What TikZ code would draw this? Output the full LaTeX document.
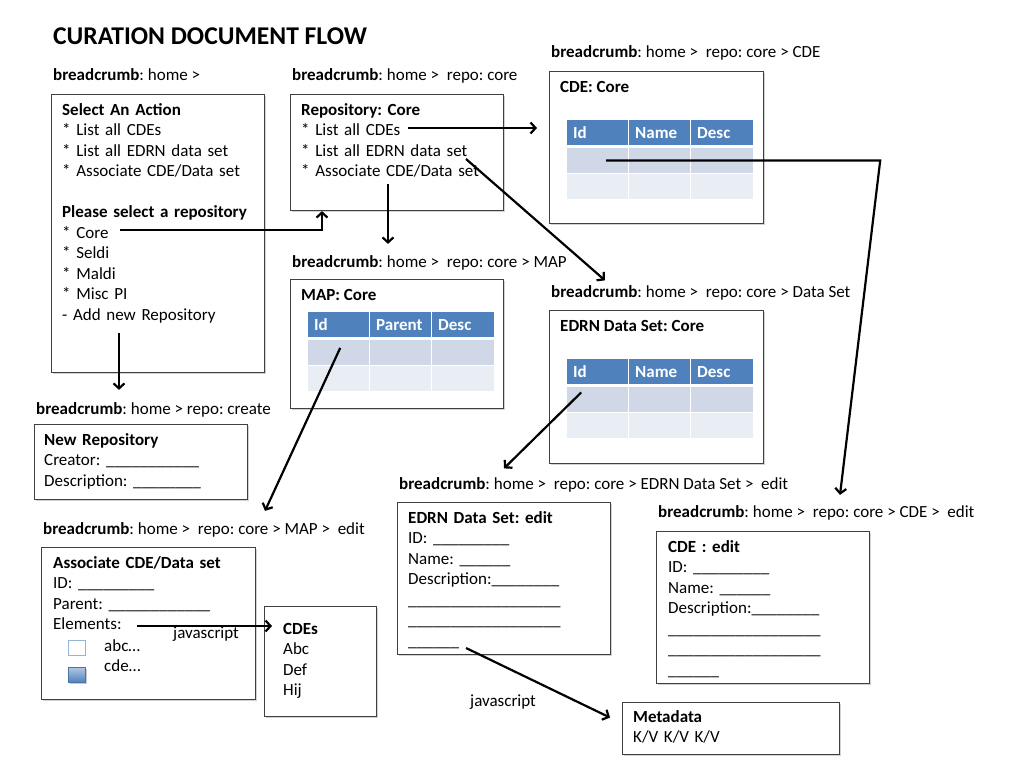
\documentclass[tikz,border=0pt]{standalone}
\usepackage{fontspec}
\setmainfont{Carlito}
\usetikzlibrary{arrows.meta,positioning,shadows}

\definecolor{hdrblue}{HTML}{4F81BD}
\definecolor{rowdark}{HTML}{D0D8E8}
\definecolor{rowlight}{HTML}{E9EDF4}
\definecolor{framegray}{HTML}{404040}
\definecolor{chkline}{HTML}{95B3D7}

\newcommand{\bodyfont}{\fontsize{17}{20.5}\selectfont\frenchspacing}
\newcommand{\fillblank}[1]{\foreach \k in {1,...,#1}{\_}}

\tikzset{
  screen/.style={draw=framegray, line width=1.1pt, fill=white, inner sep=0pt, anchor=north west,
                 drop shadow={shadow xshift=1.5pt, shadow yshift=-1.5pt, fill=black!35, opacity=0.5}},
  txt/.style={anchor=base west, inner sep=0pt, align=left, font=\bodyfont},
  para/.style={txt, text width=200pt},
  cell/.style={anchor=north west, inner sep=0pt, minimum height=24.5, draw=none},
  hlabel/.style={anchor=west, inner sep=0pt, text=white, font=\bodyfont\bfseries,
                 text height=12pt, text depth=0pt},
  flow/.style={-{Straight Barb[length=5pt, width=11pt]}, line width=2.2pt},
}

% table with three columns: name, x, y, middle header
\newcommand{\datatable}[4]{%
  \node[cell, fill=hdrblue, minimum width=61] (#1-h1) at (#2,#3) {};
  \node[cell, fill=hdrblue, minimum width=61] (#1-h2) at (#2+62,#3) {};
  \node[cell, fill=hdrblue, minimum width=62] (#1-h3) at (#2+124,#3) {};
  \foreach \c/\w [count=\i] in {0/61,62/61,124/62} {
    \node[cell, fill=rowdark, minimum width=\w] (#1-a\i) at (#2+\c,#3+28) {};
    \node[cell, fill=rowlight, minimum width=\w] (#1-b\i) at (#2+\c,#3+54) {};
  }
  \node[hlabel] at ([xshift=6pt]#1-h1.west) {Id};
  \node[hlabel] at ([xshift=6pt]#1-h2.west) {#4};
  \node[hlabel] at ([xshift=6pt]#1-h3.west) {Desc};
}

\begin{document}
\begin{tikzpicture}[x=1pt, y=-1pt]
  \useasboundingbox (0,0) rectangle (1024,768);
  \fill[white] (0,0) rectangle (1024,768);

  % ----- Title -----
  \node[txt, font=\fontsize{25.6}{30}\selectfont\bfseries] (title) at (53,45) {CURATION DOCUMENT FLOW};

  % ----- Breadcrumbs -----
  \node[txt] (bchome) at (53,81) {\textbf{breadcrumb}: home >};
  \node[txt] (bcrepo) at (292,81) {\textbf{breadcrumb}: home >~~repo: core};
  \node[txt] (bccde) at (551,58) {\textbf{breadcrumb}: home >~~repo: core > CDE};
  \node[txt] (bcmap) at (292,267) {\textbf{breadcrumb}: home >~~repo: core > MAP};
  \node[txt] (bcds) at (551,297) {\textbf{breadcrumb}: home >~~repo: core > Data Set};
  \node[txt] (bcnew) at (36,414) {\textbf{breadcrumb}: home > repo: create};
  \node[txt] (bcmapedit) at (43,534) {\textbf{breadcrumb}: home >~~repo: core > MAP >~~edit};
  \node[txt] (bcdsedit) at (399,489) {\textbf{breadcrumb}: home >~~repo: core > EDRN Data Set >~~edit};
  \node[txt] (bccdeedit) at (658,517) {\textbf{breadcrumb}: home >~~repo: core > CDE >~~edit};

  % ----- Screens -----
  \node[screen, minimum width=213, minimum height=278] (action) at (51,94) {};
  \node[screen, minimum width=213, minimum height=116] (repo) at (290,94) {};
  \node[screen, minimum width=213, minimum height=129] (map) at (290,279) {};
  \node[screen, minimum width=214, minimum height=152] (cde) at (549,71) {};
  \node[screen, minimum width=214, minimum height=153] (ds) at (549,310) {};
  \node[screen, minimum width=213, minimum height=75] (newrepo) at (34,424) {};
  \node[screen, minimum width=214, minimum height=152] (assoc) at (41,547) {};
  \node[screen, minimum width=112, minimum height=110] (cdes) at (264,606) {};
  \node[screen, minimum width=213, minimum height=152] (dsedit) at (397,502) {};
  \node[screen, minimum width=213, minimum height=152] (cdeedit) at (656,531) {};
  \node[screen, minimum width=217, minimum height=52] (meta) at (622,702) {};

  % ----- Screen contents -----
  \node[para] (actiontxt) at (62,115) {\textbf{Select An Action}\\
    {*} List all CDEs\\ {*} List all EDRN data set\\ {*} Associate CDE/Data set\\ ~\\
    \textbf{Please select a repository}\\
    {*} Core\\ {*} Seldi\\ {*} Maldi\\ {*} Misc PI\\ - Add new Repository};
  \node[para] (repotxt) at (301,115) {\textbf{Repository: Core}\\
    {*} List all CDEs\\ {*} List all EDRN data set\\ {*} Associate CDE/Data set};
  \node[txt] (maptxt) at (301,300) {\textbf{MAP: Core}};
  \node[txt] (cdetxt) at (560,92) {\textbf{CDE: Core}};
  \node[txt] (dstxt) at (560,331) {\textbf{EDRN Data Set: Core}};
  \node[para] (newrepotxt) at (44,445) {\textbf{New Repository}\\
    Creator: \fillblank{11}\\ Description: \fillblank{8}};
  \node[para] (assoctxt) at (53,568) {\textbf{Associate CDE/Data set}\\
    ID: \fillblank{9}\\ Parent: \fillblank{12}\\ Elements:};
  \node[para] (cdestxt) at (283,634) {\textbf{CDEs}\\ Abc\\ Def\\ Hij};
  \node[para] (dsedittxt) at (408,523) {\textbf{EDRN Data Set: edit}\\
    ID: \fillblank{9}\\ Name: \fillblank{6}\\ Description:\fillblank{8}\\
    \fillblank{18}\\ \fillblank{18}\\ \fillblank{6}};
  \node[para] (cdeedittxt) at (668,552) {\textbf{CDE : edit}\\
    ID: \fillblank{9}\\ Name: \fillblank{6}\\ Description:\fillblank{8}\\
    \fillblank{18}\\ \fillblank{18}\\ \fillblank{6}};
  \node[para] (metatxt) at (633,722) {\textbf{Metadata}\\ K/V K/V K/V};

  % element check boxes
  \node[draw=chkline, line width=1pt, fill=white, minimum width=17, minimum height=15, inner sep=0pt] (chkabc) at (77,647.5) {};
  \node[draw=hdrblue!90!black, line width=0.6pt, top color=hdrblue!45, bottom color=hdrblue, minimum width=17, minimum height=15, inner sep=0pt,
        drop shadow={shadow xshift=1pt, shadow yshift=-1.5pt, fill=black!40, opacity=0.5}] (chkcde) at (77,675) {};
  \node[txt] (abc) at (104,651) {abc…};
  \node[txt] (cdeitem) at (104,671) {cde…};

  % ----- Tables -----
  \datatable{cdetab}{567}{120}{Name}
  \datatable{maptab}{308}{312}{Parent}
  \datatable{dstab}{567}{359}{Name}

  % ----- Arrows -----
  \coordinate (coreLink) at (120,230);
  \coordinate (mapLink) at (388,184);
  \coordinate (newLink) at (119,333);
  \coordinate (cdeLink) at (408,128);
  \coordinate (dsLink) at (466,159);
  \coordinate (elemLink) at (137,626);
  \coordinate (metaLink) at (466,648);

  \draw[flow] (coreLink) -| ([xshift=32pt]repo.south west);
  \draw[flow, shorten >=11pt] (mapLink) -- (mapLink |- bcmap.north);
  \draw[flow, shorten >=12pt] (newLink) -- (newLink |- bcnew.north);
  \draw[flow, shorten >=12pt] (cdeLink) -- (cdeLink -| cde.west);
  \draw[flow] (dsLink) -- ([shift={(54,-4.5)}]bcds.north west);
  \draw[flow] ([xshift=8.5pt]cdetab-a1.center) -- ++(274,0) -- ([shift={(182,-10)}]bccdeedit.north west);
  \draw[flow] ([shift={(1.5,-4.5)}]maptab-a1.center) -- ([shift={(222,-11)}]bcmapedit.north west);
  \draw[flow] ([shift={(-16.5,-7)}]dstab-a1.center) -- ([shift={(105,-8.5)}]bcdsedit.north west);
  \draw[flow, shorten >=-8pt] (elemLink) -- (elemLink -| cdes.west);
  \draw[flow] (metaLink) -- ([shift={(-12,-11)}]meta.west);

  \node[txt] (jselem) at (173,638) {javascript};
  \node[txt] (jsmeta) at (470,706) {javascript};
\end{tikzpicture}
\end{document}
